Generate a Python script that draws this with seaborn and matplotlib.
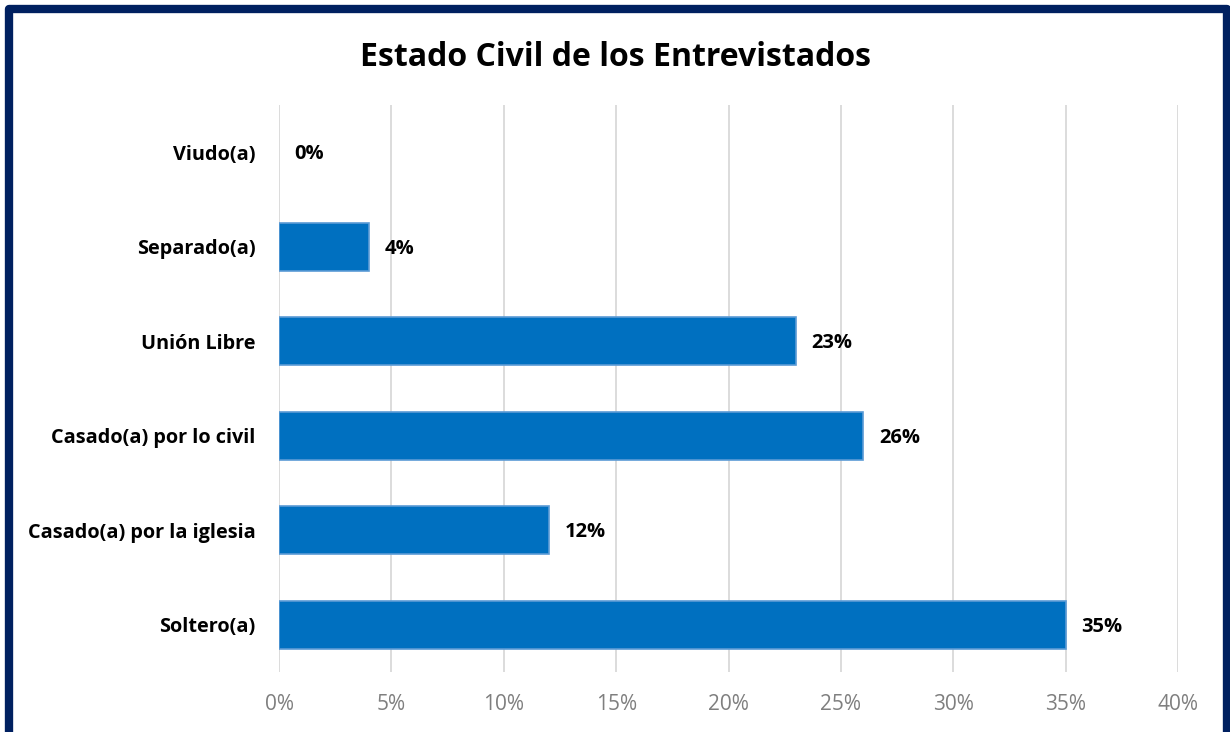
import matplotlib
matplotlib.use("Agg")
import matplotlib.pyplot as plt
import seaborn as sns
import pandas as pd
from matplotlib.patches import Rectangle
from matplotlib.ticker import FuncFormatter

categorias = ["Viudo(a)", "Separado(a)", "Unión Libre", "Casado(a) por lo civil",
              "Casado(a) por la iglesia", "Soltero(a)"]
porcentajes = [0, 4, 23, 26, 12, 35]
ticks_x = [0, 5, 10, 15, 20, 25, 30, 35, 40]

df = pd.DataFrame({"estado": categorias, "pct": porcentajes})

sns.set_theme(style="white")
plt.rcParams["font.family"] = ["Open Sans", "DejaVu Sans"]

W, H = 1230, 732
fig = plt.figure(figsize=(W / 100, H / 100), dpi=100)
ax = fig.add_axes([279 / W, 1 - 672 / H, (1178 - 279) / W, (672 - 105) / H])

sns.barplot(data=df, x="pct", y="estado", order=categorias, color="#0070C0",
            saturation=1, width=0.51, edgecolor="#5B9BD5", linewidth=1.2, ax=ax)
# a zero-length bar draws nothing
for p in ax.patches:
    if p.get_width() == 0:
        p.set_visible(False)

ax.set_xlim(0, 40)
ax.set_ylim(len(categorias) - 0.5, -0.5)
ax.set_xticks(ticks_x)
ax.xaxis.set_major_formatter(FuncFormatter(lambda v, p: f"{v:.0f}%"))
ax.grid(axis="x", color="#D9D9D9", linewidth=1.3)
ax.set_axisbelow(True)
for s in ax.spines.values():
    s.set_visible(False)
ax.set_xlabel("")
ax.set_ylabel("")
ax.tick_params(axis="x", colors="#7F7F7F", labelsize=15, length=0, pad=16)
ax.tick_params(axis="y", length=0, pad=17)
for lbl in ax.get_yticklabels():
    lbl.set_fontweight("bold")
    lbl.set_fontsize(14.3)
    lbl.set_color("black")

for i, v in enumerate(porcentajes):
    ax.text(v + 0.7, i + 0.02, f"{v}%", va="center", ha="left",
            fontsize=14.5, fontweight="bold", color="black")

fig.text(0.5, 1 - 57 / H, "Estado Civil de los Entrevistados", ha="center", va="center",
         fontsize=23, fontweight="bold", color="black")

# outer frame
fig.patches.append(Rectangle((9 / W, 1 - 740 / H), (1227 - 9) / W, (740 - 9) / H,
                             transform=fig.transFigure, fill=False,
                             edgecolor="#002060", linewidth=6, joinstyle="round"))

fig.savefig("out.png", dpi=100, facecolor="white")
